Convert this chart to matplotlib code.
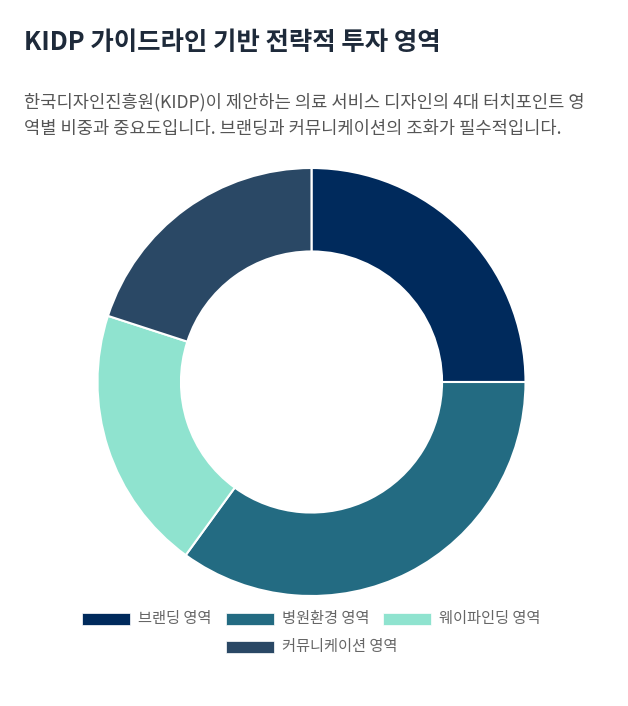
import matplotlib
matplotlib.use("Agg")
import matplotlib.pyplot as plt
from matplotlib.patches import Rectangle
from matplotlib.font_manager import FontProperties

plt.rcParams['font.family'] = ['Noto Sans CJK KR', 'DejaVu Sans']

title = "KIDP 가이드라인 기반 전략적 투자 영역"
subtitle_lines = ["한국디자인진흥원(KIDP)이 제안하는 의료 서비스 디자인의 4대 터치포인트 영",
                  "역별 비중과 중요도입니다. 브랜딩과 커뮤니케이션의 조화가 필수적입니다."]
categories = ["브랜딩 영역", "병원환경 영역", "웨이파인딩 영역", "커뮤니케이션 영역"]
values = [25, 35, 20, 20]
colors = ["#002a5c", "#236b82", "#8fe3cf", "#2a4865"]

W, H = 628, 706
fig = plt.figure(figsize=(W / 100, H / 100), dpi=100)
fig.patch.set_facecolor("white")

def fx(px):
    return px / W

def fy(py):
    return 1 - py / H

fig.text(fx(24), fy(42), title, fontsize=18.3, fontweight='bold', color="#1e2a3a",
         va='center', ha='left')
for i, line in enumerate(subtitle_lines):
    fig.text(fx(24), fy(102 + i * 27), line, fontsize=12.7, color="#555555",
             va='center', ha='left')

cx, cy, r = 311.5, 382, 214
ax = fig.add_axes([fx(cx - r), fy(cy + r), 2 * r / W, 2 * r / H])
ax.pie(values, colors=colors, startangle=90, counterclock=False, radius=1,
       wedgeprops=dict(width=0.39, edgecolor='white', linewidth=1.5))
ax.set_xlim(-1.0, 1.0)
ax.set_ylim(-1.0, 1.0)
ax.set_aspect('auto')
ax.axis('off')

# legend (Chart.js style, centered rows)
rows = [[0, 1, 2], [3]]
row_y = [619, 647]
box_w, box_h = 48, 12
gap_text = 8
item_gap = 14
fp = FontProperties(family='Noto Sans CJK KR', size=11)
renderer = fig.canvas.get_renderer()
for ri, row in enumerate(rows):
    widths = []
    for idx in row:
        t = fig.text(0, 0, categories[idx], fontproperties=fp)
        bb = t.get_window_extent(renderer=renderer)
        t.remove()
        widths.append(box_w + gap_text + bb.width)
    total = sum(widths) + item_gap * (len(row) - 1)
    x = cx - total / 2
    for idx, w in zip(row, widths):
        y = row_y[ri]
        fig.patches.append(Rectangle((fx(x), fy(y + box_h / 2)), box_w / W, box_h / H,
                                     transform=fig.transFigure, facecolor=colors[idx],
                                     edgecolor='white', linewidth=0.5))
        fig.text(fx(x + box_w + gap_text), fy(y), categories[idx], fontproperties=fp,
                 color="#666666", va='center', ha='left')
        x += w + item_gap

fig.savefig("out.png", dpi=100, facecolor="white")
